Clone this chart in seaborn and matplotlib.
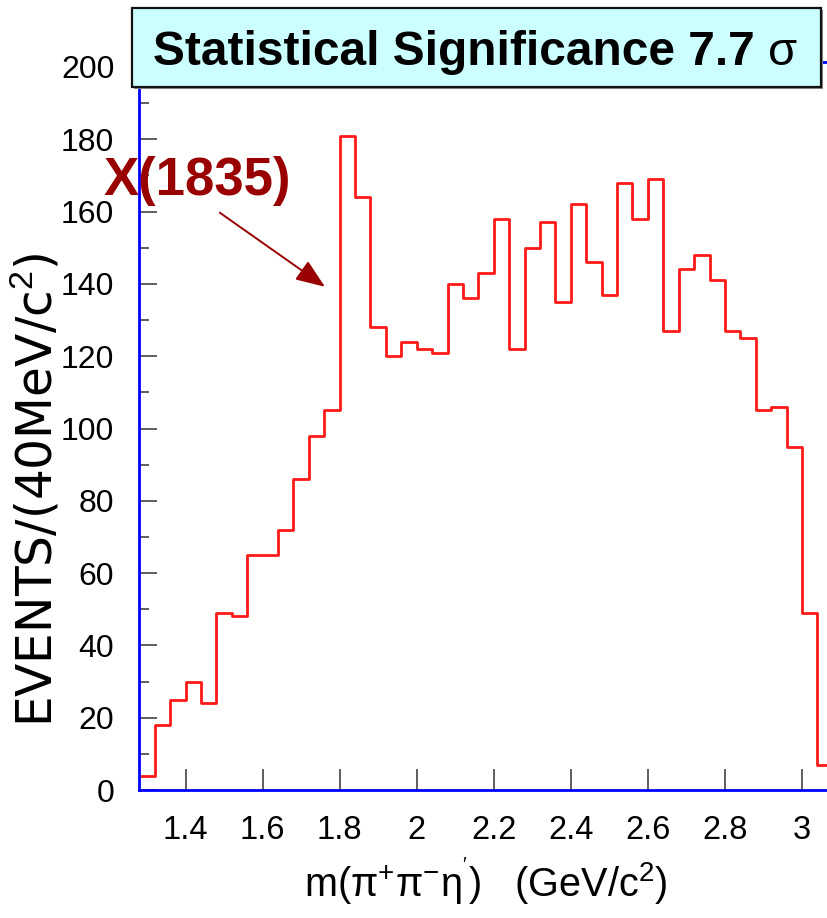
import numpy as np
import pandas as pd
import matplotlib
matplotlib.use("Agg")
import matplotlib.pyplot as plt
from matplotlib.patches import Rectangle
from matplotlib.ticker import MultipleLocator
import seaborn as sns

# 40 MeV bins of the pi+ pi- eta' invariant mass (GeV/c^2)
bin_start = 1.28
bin_width = 0.04
events = [4, 18, 25, 30, 24, 49, 48, 65, 65, 72, 86, 98, 105,
          181, 164, 128, 120, 124, 122, 121, 140, 136, 143, 158, 122,
          150, 157, 135, 162, 146, 137, 168, 158, 169, 127, 144, 148,
          141, 127, 125, 105, 106, 95, 49, 7]

x_ticks = [1.4, 1.6, 1.8, 2.0, 2.2, 2.4, 2.6, 2.8, 3.0]
x_tick_labels = ["1.4", "1.6", "1.8", "2", "2.2", "2.4", "2.6", "2.8", "3"]
y_ticks = [0, 20, 40, 60, 80, 100, 120, 140, 160, 180, 200]
y_tick_labels = [str(v) for v in y_ticks]

edges = np.round(bin_start + bin_width * np.arange(len(events) + 1), 3)
df = pd.DataFrame({"mass": (edges[:-1] + edges[1:]) / 2, "events": events})

sns.set_style("white")
plt.rcParams["font.family"] = ["Liberation Sans", "DejaVu Sans"]
plt.rcParams["mathtext.fontset"] = "custom"
plt.rcParams["mathtext.rm"] = "Liberation Sans"
plt.rcParams["mathtext.it"] = "Liberation Sans:italic"
plt.rcParams["text.color"] = "black"
plt.rcParams["xtick.color"] = "#333333"
plt.rcParams["ytick.color"] = "#333333"
plt.rcParams["xtick.labelcolor"] = "black"
plt.rcParams["ytick.labelcolor"] = "black"

W, H = 828, 918
fig = plt.figure(figsize=(W / 100, H / 100), dpi=100)
fig.patch.set_facecolor("white")

# axes frame in pixel terms: left 139.3, bottom (y=0) at 790 from top
x_lo, x_hi = 1.28, 3.09
y_lo, y_hi = 0, 201.5
px_per_x = 385.3
px_per_y = 3.615
left_px = 139.3
bottom_px = 790
ax = fig.add_axes([left_px / W, (H - bottom_px) / H,
                   (x_hi - x_lo) * px_per_x / W, (y_hi - y_lo) * px_per_y / H])

sns.histplot(data=df, x="mass", weights="events", bins=list(edges), element="step",
             fill=False, color="#ff1a1a", linewidth=2.0, ax=ax)

ax.set_xlim(x_lo, x_hi)
ax.set_ylim(y_lo, y_hi)
ax.set_xlabel("")
ax.set_ylabel("")
ax.set_xticks(x_ticks)
ax.set_xticklabels(x_tick_labels)
ax.set_yticks(y_ticks)
ax.set_yticklabels(y_tick_labels)
ax.yaxis.set_minor_locator(MultipleLocator(10))

for side in ["left", "bottom", "top", "right"]:
    ax.spines[side].set_visible(True)
    ax.spines[side].set_color("#0000ff")
    ax.spines[side].set_linewidth(2.0)

ax.tick_params(axis="x", which="major", direction="in", length=15, width=1.1,
               labelsize=23.5, pad=18, bottom=True, top=False)
ax.tick_params(axis="x", which="minor", bottom=False, top=False)
ax.tick_params(axis="y", which="major", direction="in", length=13, width=1.1,
               labelsize=23, pad=18, left=True, right=False)
ax.tick_params(axis="y", which="minor", direction="in", length=7.2, width=1.1,
               left=True, right=False)

# X(1835) label with arrow to the peak
dark_red = "#990000"
ax.text(1.187, 164.6, "X(1835)", color=dark_red, fontsize=38, fontweight="bold",
        ha="left", va="baseline", clip_on=False, zorder=5)
ax.annotate("", xy=(1.762, 139.2), xytext=(1.489, 159.7),
            arrowprops=dict(arrowstyle="-|>,head_length=1.8,head_width=0.7",
                            color=dark_red, lw=1.4, shrinkA=0, shrinkB=0),
            annotation_clip=False, zorder=5)

# significance box
bx0, bx1, by0, by1 = 132.3, 821.0, 8.3, 87.3
shadow = Rectangle(((bx0 + 2) / W, 1 - (by1 + 2) / H), (bx1 - bx0) / W, (by1 - by0) / H,
                   transform=fig.transFigure, facecolor="#8c8c8c", edgecolor="none", zorder=8)
box = Rectangle((bx0 / W, 1 - by1 / H), (bx1 - bx0) / W, (by1 - by0) / H,
                transform=fig.transFigure, facecolor="#ccffff", edgecolor="#111111",
                linewidth=1.6, zorder=9)
fig.patches.extend([shadow, box])
fig.text(153 / W, 1 - 65 / H, "Statistical Significance 7.7", fontsize=34.5,
         fontweight="bold", ha="left", va="baseline", zorder=10)
fig.text(768 / W, 1 - 65 / H, "σ", fontsize=34, ha="left", va="baseline", zorder=10)

# axis titles
fig.text(485.5 / W, 1 - 897 / H, r"m(π$^{+}$π$^{-}$η$^{'}$)   (GeV/c$^{2}$)",
         fontsize=28.5, ha="center", va="baseline")
fig.text(52 / W, 1 - 490 / H, r"EVENTS/(40MeV/c$^{2}$)", fontsize=35,
         family=["DejaVu Sans"], rotation=90, rotation_mode="anchor",
         ha="center", va="baseline")

fig.savefig("out.png", dpi=100)
